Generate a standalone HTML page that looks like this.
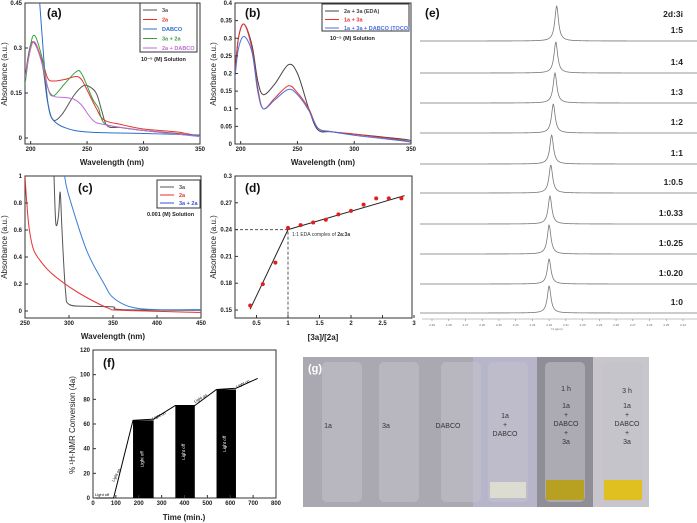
<!DOCTYPE html>
<html><head><meta charset="utf-8">
<style>
html,body{margin:0;padding:0;background:#fff;}
svg{display:block;font-family:"Liberation Sans",Arial,sans-serif;}
</style></head>
<body>
<svg id="fig" width="697" height="523" viewBox="0 0 697 523" xmlns="http://www.w3.org/2000/svg">
<rect width="697" height="523" fill="#fff"/>
<g id="g-photo">
  <rect x="303" y="357" width="170" height="150" fill="#aaa8b1"/>
  <rect x="473" y="357" width="64" height="150" fill="#b7b5ca"/>
  <rect x="537" y="357" width="56" height="150" fill="#8f8d95"/>
  <rect x="593" y="357" width="56" height="150" fill="#c8c6cc"/>
  <g fill="#c4c3cb" opacity="0.55">
    <rect x="322" y="362" width="40" height="140" rx="5"/>
    <rect x="379" y="362" width="40" height="140" rx="5"/>
    <rect x="441" y="362" width="40" height="140" rx="5"/>
    <rect x="488" y="362" width="40" height="140" rx="5"/>
    <rect x="545" y="362" width="40" height="140" rx="5"/>
    <rect x="603" y="362" width="40" height="140" rx="5"/>
  </g>
  <rect x="546" y="480" width="38" height="20" fill="#b8a020"/>
  <rect x="604" y="480" width="38" height="20" fill="#e0c020"/>
  <rect x="490" y="482" width="36" height="16" fill="#dcdcd0"/>
  <g font-size="7" fill="#333" text-anchor="middle">
    <text x="328" y="428">1a</text><text x="386" y="428">3a</text><text x="448" y="428">DABCO</text>
    <text x="505" y="418">1a</text><text x="505" y="427">+</text><text x="505" y="436">DABCO</text>
    <text x="566" y="391">1 h</text><text x="566" y="408">1a</text><text x="566" y="417">+</text><text x="566" y="426">DABCO</text><text x="566" y="435">+</text><text x="566" y="444">3a</text>
    <text x="627" y="393">3 h</text><text x="627" y="408">1a</text><text x="627" y="417">+</text><text x="627" y="426">DABCO</text><text x="627" y="435">+</text><text x="627" y="444">3a</text>
  </g>
  <text x="308" y="372" font-size="11" font-weight="bold" fill="#fff">(g)</text>
</g>
</svg>
<script>
// ---------- data ----------
const aWl3a=[195,201,210,215,220,228,238,245,250,258,263,268,280,300,330,350];
const aAb3a=[0.2,0.32,0.25,0.12,0.06,0.08,0.14,0.17,0.175,0.15,0.09,0.04,0.035,0.025,0.015,0.005];
const aWl2a=[195,202,210,215,220,230,240,245,250,258,265,280,300,330,350];
const aAb2a=[0.2,0.32,0.26,0.2,0.19,0.195,0.205,0.195,0.16,0.1,0.06,0.045,0.03,0.02,0.005];
const aWlDab=[208,210,213,216,220,230,250,300,350];
const aAbDab=[0.45,0.35,0.2,0.1,0.06,0.035,0.02,0.015,0.01];
const aWlMix=[195,202,210,215,220,230,240,245,255,260,265,280,300,350];
const aAbMix=[0.18,0.34,0.27,0.17,0.14,0.18,0.22,0.215,0.13,0.1,0.05,0.035,0.025,0.005];
const aWlPur=[195,202,210,215,220,230,238,245,255,265,300,350];
const aAbPur=[0.2,0.32,0.25,0.17,0.14,0.135,0.13,0.11,0.06,0.045,0.025,0.005];
const bWl=[195,198,203,210,215,220,230,242,250,260,268,280,300,340,350];
const bEDA=[0.2,0.3,0.34,0.28,0.18,0.14,0.17,0.225,0.2,0.1,0.04,0.035,0.028,0.015,0.01];
const bRed=[0.2,0.3,0.34,0.27,0.16,0.1,0.13,0.165,0.145,0.1,0.045,0.035,0.028,0.012,0.005];
const bBlue=[0.19,0.27,0.305,0.26,0.15,0.1,0.125,0.155,0.14,0.095,0.045,0.035,0.025,0.01,0.005];
const cWl3a=[283,285,288,290,292,296,300,320,350,360,450];
const cAb3a=[1.0,0.65,0.7,0.88,0.6,0.15,0.05,0.035,0.03,0.01,0.005];
const cWl2a=[250,252,255,260,270,280,300,320,345,360,450];
const cAb2a=[1.0,0.8,0.6,0.45,0.35,0.28,0.18,0.1,0.02,0.005,-0.01];
const cWlMix=[295,300,320,340,350,370,400,450];
const cAbMix=[1.0,0.85,0.45,0.2,0.1,0.03,0.01,0.01];
const dRatio=[0.4,0.6,0.8,1.0,1.2,1.4,1.6,1.8,2.0,2.2,2.4,2.6,2.8];
const dAbs=[0.155,0.179,0.203,0.242,0.245,0.248,0.251,0.257,0.261,0.268,0.275,0.275,0.275];
const eLabels=["1:5","1:4","1:3","1:2","1:1","1:0.5","1:0.33","1:0.25","1:0.20","1:0"];
const ePeakPpm=[2.3155,2.316,2.3165,2.3175,2.3185,2.319,2.3195,2.32,2.32,2.32];
const eHeight=[35,31,30,29,29,28,28,29,25,27];
const eTicks=[2.39,2.38,2.37,2.36,2.35,2.34,2.33,2.32,2.31,2.30,2.29,2.28,2.27,2.26,2.25,2.24];
const fBarStart=[175,360,540];
const fBarEnd=[265,445,625];
const fBarTop=[63,75,88];
const fLineT=[0,90,175,265,360,445,540,625,720];
const fLineV=[0,0,63,64,75,75,88,89,97];
const fXTicks=[0,100,200,300,400,500,600,700,800];
const fYTicks=[0,20,40,60,80,100,120];

// ---------- helpers ----------
const svg=document.getElementById('fig');
const NS='http://www.w3.org/2000/svg';
function mk(tag,attrs,parent){const e=document.createElementNS(NS,tag);for(const k in attrs)e.setAttribute(k,attrs[k]);(parent||svg).appendChild(e);return e;}
function txt(x,y,s,size,extra,parent){const t=mk('text',Object.assign({x:x,y:y,'font-size':size},extra||{}),parent);t.textContent=s;return t;}
function lin(d0,d1,r0,r1){return v=>r0+(v-d0)*(r1-r0)/(d1-d0);}
function frame(x0,y0,x1,y1,name){const r=mk('rect',{x:x0,y:y0,width:x1-x0,height:y1-y0,fill:'none',stroke:'#333','stroke-width':1});

}
function smoothPath(P){let d='M'+P[0][0].toFixed(1)+','+P[0][1].toFixed(1);
for(let i=0;i<P.length-1;i++){const p0=P[i-1]||P[i],p1=P[i],p2=P[i+1],p3=P[i+2]||P[i+1];
const c1=[p1[0]+(p2[0]-p0[0])/6,p1[1]+(p2[1]-p0[1])/6],c2=[p2[0]-(p3[0]-p1[0])/6,p2[1]-(p3[1]-p1[1])/6];
d+='C'+c1[0].toFixed(1)+','+c1[1].toFixed(1)+' '+c2[0].toFixed(1)+','+c2[1].toFixed(1)+' '+p2[0].toFixed(1)+','+p2[1].toFixed(1);}return d;}
function series(xs,ys,sx,sy,color,name,clip,straight){const P=xs.map((v,i)=>[sx(v),sy(ys[i])]);
const d=straight?P.map((p,i)=>(i?'L':'M')+p[0].toFixed(1)+','+p[1].toFixed(1)).join(''):smoothPath(P);
const p=mk('path',{d:d,fill:'none',stroke:color,'stroke-width':1,'clip-path':clip?'url(#'+clip+')':''});

}
function clipRect(id,x0,y0,x1,y1){const defs=mk('defs',{});const c=mk('clipPath',{id:id},defs);mk('rect',{x:x0,y:y0,width:x1-x0,height:y1-y0},c);}
function xticks(vals,sx,y,fmt,size){vals.forEach(v=>{mk('line',{x1:sx(v),x2:sx(v),y1:y,y2:y-3,stroke:'#333'});const t=txt(sx(v),y+7,fmt?fmt(v):String(v),size||6,{'text-anchor':'middle','font-weight':'bold',fill:'#222'});

});}
function yticks(vals,sy,x,fmt,size){vals.forEach(v=>{mk('line',{x1:x,x2:x+3,y1:sy(v),y2:sy(v),stroke:'#333'});const t=txt(x-3,sy(v)+2,fmt?fmt(v):String(v),size||6,{'text-anchor':'end','font-weight':'bold',fill:'#222'});

});}
function ytitle(x,y,s,size){const t=txt(x,y,s,size||8,{'text-anchor':'middle',transform:'rotate(-90 '+x+' '+y+')',fill:'#222'});

}
function xtitle(x,y,s,size){const t=txt(x,y,s,size||8,{'text-anchor':'middle','font-weight':'bold',fill:'#222'});

}
function plabel(x,y,s){const t=txt(x,y,s,12,{'font-weight':'bold',fill:'#111'});

}
function legend(x0,y0,x1,y1,items,dy){const r=mk('rect',{x:x0,y:y0,width:x1-x0,height:y1-y0,fill:'#fff',stroke:'#333'});


items.forEach((it,i)=>{const y=y0+7+i*dy;mk('line',{x1:x0+3,x2:x0+17,y1:y,y2:y,stroke:it[1]});const t=txt(x0+22,y+2,it[0],5.5,{fill:it[1],'font-weight':'bold'});

});}

// ---------- panel (a) ----------
(function(){const sx=lin(195,350,25,200),sy=lin(0,0.45,138,3);
clipRect('ca',25,3,200,144);frame(25,3,200,144,'panel-a-frame');
series(aWl3a,aAb3a,sx,sy,'#555','series-3a','ca');series(aWl2a,aAb2a,sx,sy,'#e8312f','series-2a','ca');
series(aWlDab,aAbDab,sx,sy,'#2c6fc8','series-dabco','ca');series(aWlMix,aAbMix,sx,sy,'#3aa040','series-3a-2a','ca');
series(aWlPur,aAbPur,sx,sy,'#c06bd3','series-2a-dabco','ca');
xticks([200,250,300,350],sx,144);yticks([0,0.15,0.3,0.45],sy,25);
ytitle(7,74,'Absorbance (a.u.)');xtitle(112,165,'Wavelength (nm)');plabel(47,17,'(a)');
legend(140,3,197,52,[['3a','#555'],['2a','#e8312f'],['DABCO','#2c6fc8'],['3a + 2a','#3aa040'],['2a + DABCO','#c06bd3']],9.5);
txt(141,61,'10⁻⁵ (M) Solution',5.5,{'font-weight':'bold',fill:'#222'});})();

// ---------- panel (b) ----------
(function(){const sx=lin(195,350,235,411),sy=lin(0,0.4,144,3);
clipRect('cb',235,3,411,144);frame(235,3,411,144,'panel-b-frame');
series(bWl,bEDA,sx,sy,'#444','series-eda','cb');series(bWl,bRed,sx,sy,'#e8312f','series-1a-3a','cb');series(bWl,bBlue,sx,sy,'#4a6fe0','series-toco','cb');
xticks([200,250,300,350],sx,144);yticks([0,0.05,0.1,0.15,0.2,0.25,0.3,0.35,0.4],sy,235,v=>String(+v.toFixed(2)));
ytitle(216,74,'Absorbance (a.u.)');xtitle(323,165,'Wavelength (nm)');plabel(245,17,'(b)');
legend(322,4,409,31,[['2a + 3a (EDA)','#444'],['1a + 3a','#e8312f'],['1a + 3a + DABCO (TOCO)','#4a6fe0']],8.5);
txt(330,40,'10⁻⁵ (M) Solution',5.5,{'font-weight':'bold',fill:'#222'});})();

// ---------- panel (c) ----------
(function(){const sx=lin(250,450,25,201),sy=lin(0,1,311,176);
clipRect('cc',25,176,201,318);frame(25,176,201,318,'panel-c-frame');
series(cWl3a,cAb3a,sx,sy,'#555','series-3a','cc');series(cWl2a,cAb2a,sx,sy,'#e8312f','series-2a','cc');series(cWlMix,cAbMix,sx,sy,'#3a80d0','series-3a-2a','cc');
xticks([250,300,350,400,450],sx,318);yticks([0,0.2,0.4,0.6,0.8,1],sy,25);
ytitle(7,247,'Absorbance (a.u.)');xtitle(113,339,'Wavelength (nm)');plabel(78,192,'(c)');
legend(157,180,200,208,[['3a','#555'],['2a','#e8312f'],['3a + 2a','#3a4fe0']],8);
txt(147,216,'0.001 (M) Solution',5.5,{'font-weight':'bold',fill:'#222'});})();

// ---------- panel (d) ----------
(function(){const sx=lin(1,2,288,351),sy=lin(0.15,0.3,310,176);
frame(235,176,412,318,'panel-d-frame');
mk('path',{d:'M235,'+sy(0.24)+'H'+sx(1)+'V318',fill:'none',stroke:'#555','stroke-dasharray':'3,2'});
mk('line',{x1:sx(0.4),y1:sy(0.151),x2:sx(1),y2:sy(0.24),stroke:'#222'});
mk('line',{x1:sx(1),y1:sy(0.24),x2:sx(2.85),y2:sy(0.278),stroke:'#222'});
dRatio.forEach((v,i)=>{const c=mk('circle',{cx:sx(v),cy:sy(dAbs[i]),r:2,fill:'#e02020'});

});
xticks([0.5,1,1.5,2,2.5,3],sx,318);yticks([0.15,0.18,0.21,0.24,0.27,0.3],sy,235,v=>String(+v.toFixed(2)));
ytitle(216,247,'Absorbance (a.u.)');xtitle(323,340,'[3a]/[2a]');plabel(245,192,'(d)');
const t=txt(292,236,'1:1 EDA complex of ',5,{fill:'#333'});const b=mk('tspan',{'font-weight':'bold'},t);b.textContent='2a:3a';})();

// ---------- panel (e) ----------
(function(){const base=[41,73,103,133,164,193,224,254,284,313];
const sx=lin(2.39,2.24,432,683);
eLabels.forEach((lab,i)=>{const x0=sx(ePeakPpm[i]),y0=base[i],h=eHeight[i];let d='';
for(let x=420;x<=697;x+=0.5){const dx=(x-x0)/2.2;const y=y0-h/(1+dx*dx);d+=(d?'L':'M')+x+','+y.toFixed(2);}
const p=mk('path',{d:d,fill:'none',stroke:'#777','stroke-width':0.8});


const t=txt(683,y0-8,lab,8.5,{'text-anchor':'end','font-weight':'bold',fill:'#222'});

});
mk('line',{x1:422,x2:697,y1:319,y2:319,stroke:'#888','stroke-width':0.6});
eTicks.forEach(v=>{mk('line',{x1:sx(v),x2:sx(v),y1:319,y2:321,stroke:'#888','stroke-width':0.6});txt(sx(v),326,v.toFixed(2),3,{'text-anchor':'middle',fill:'#666'});});
txt(557,330,'f1 (ppm)',3,{'text-anchor':'middle',fill:'#666'});
txt(683,17,'2d:3i',8.5,{'text-anchor':'end','font-weight':'bold',fill:'#222'});
plabel(425,17,'(e)');})();

// ---------- panel (f) ----------
(function(){const sx=lin(0,800,93,276),sy=lin(0,120,498,350);
frame(93,350,276,498,'panel-f-frame');
fBarStart.forEach((s,i)=>{const r=mk('rect',{x:sx(s),y:sy(fBarTop[i]),width:sx(fBarEnd[i])-sx(s),height:sy(0)-sy(fBarTop[i]),fill:'#000'});


const cx=(sx(s)+sx(fBarEnd[i]))/2,cy=(sy(fBarTop[i])+498)/2;txt(cx,cy,'Light off',4.5,{'text-anchor':'middle',fill:'#fff',transform:'rotate(-90 '+cx+' '+cy+')'});});
series(fLineT,fLineV,sx,sy,'#000','conversion-line',null,true);
xticks(fXTicks,sx,498);yticks(fYTicks,sy,93);
ytitle(75,425,'% ¹H-NMR Conversion (4a)');xtitle(184,520,'Time (min.)');plabel(103,367,'(f)');
txt(95,496,'Light off',4,{fill:'#000'});
txt(114,482,'Light on',4,{fill:'#000',transform:'rotate(-62 114 482)'});
txt(153,420,'Light on',4,{fill:'#000',transform:'rotate(-25 153 420)'});
txt(195,403,'Light on',4,{fill:'#000',transform:'rotate(-30 195 403)'});
txt(237,388,'Light on',4,{fill:'#000',transform:'rotate(-25 237 388)'});})();
</script>
</body></html>
